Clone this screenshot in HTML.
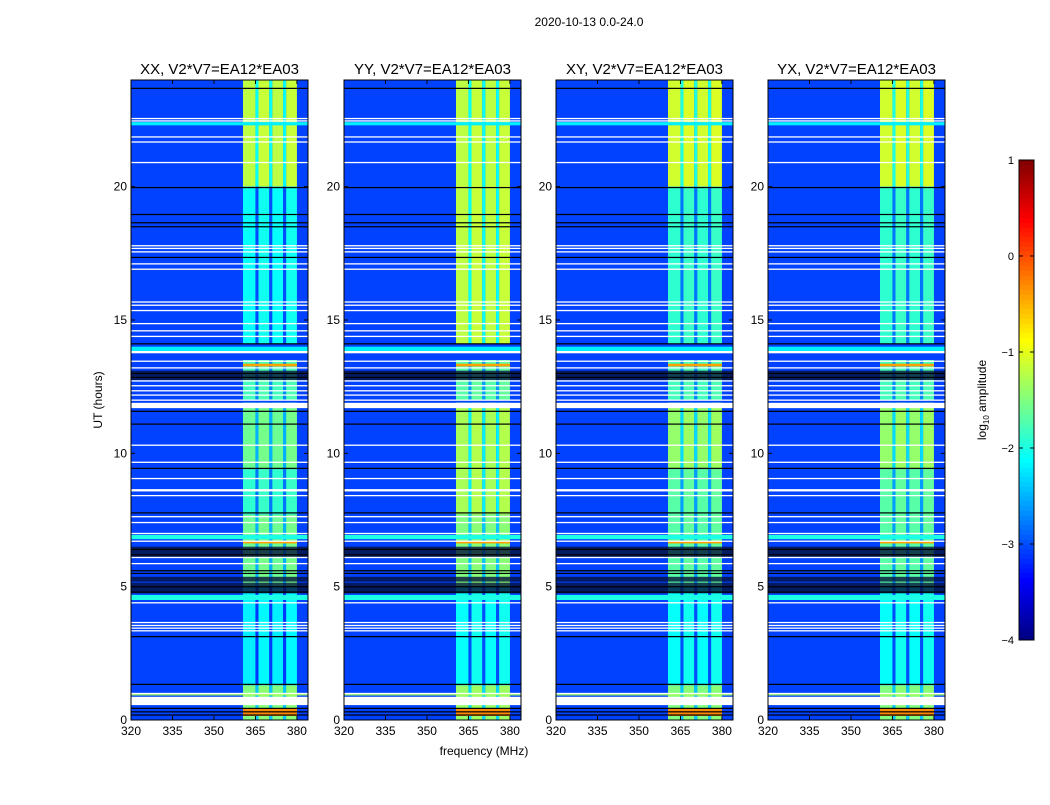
<!DOCTYPE html>
<html><head><meta charset="utf-8"><style>
body{margin:0;background:#fff;width:1050px;height:800px;overflow:hidden;font-family:"Liberation Sans",sans-serif}
</style></head><body>
<svg id="fig" width="1050" height="800" xmlns="http://www.w3.org/2000/svg" font-family="Liberation Sans, sans-serif">
<text x="589" y="26" font-size="12" text-anchor="middle">2020-10-13 0.0-24.0</text>
<text transform="translate(102,400) rotate(-90)" font-size="12" text-anchor="middle">UT (hours)</text>
<text x="484" y="755" font-size="12" text-anchor="middle">frequency (MHz)</text>
<text transform="translate(986,400) rotate(-90)" font-size="12" text-anchor="middle">log<tspan font-size="8" dy="3">10</tspan><tspan dy="-3"> amplitude</tspan></text>
<g id="panels"></g>
<g id="cbar"></g>
</svg>
<script>
const panelNames=["XX","YY","XY","YX"];
const xTicks=[320,335,350,365,380];
const yTicks=[0,5,10,15,20];
const cbTicks=[1,0,-1,-2,-3,-4];
const bgLevel=-3.05;
const bandCols=[[360.5,365,0],[365,366.1,-0.9],[366.1,370,0.05],[370,371.1,-0.9],[371.1,375,0],[375,376.1,-0.9],[376.1,380,0.05]];
const segXX=[[20,24,-1.2],[14.1,20,-2.1],[12,13.5,-1.8],[9.4,11.9,-1.6],[7.7,9.4,-1.9],[5,7.7,-1.6],[1.3,5,-2.2],[0,1.3,-1.5]];
const segYY=[[14.1,24,-1.2],[12,13.5,-1.7],[7.7,11.9,-1.3],[5,7.7,-1.5],[1.3,5,-2.1],[0,1.3,-1.4]];
const segXY=[[20,24,-1.1],[14.1,20,-1.9],[12,13.5,-1.8],[9.4,11.9,-1.4],[5,9.4,-1.7],[1.3,5,-2.1],[0,1.3,-1.5]];
const segYX=[[20,24,-1.1],[14.1,20,-1.9],[12,13.5,-1.8],[9.4,11.9,-1.4],[5,9.4,-1.7],[1.3,5,-2.1],[0,1.3,-1.5]];
const bgStripes=[[22.3,22.42,-2.2],[13.8,14.0,-2.2],[6.78,6.94,-2.0],[4.5,4.69,-2.0],[0.92,0.97,-1.3]];
const hotRows=[[13.26,13.36,-0.4],[6.62,6.72,-0.4],[0.15,0.45,-0.3]];
const darkRows=[[12.75,13.1],[5.19,5.37],[4.75,5.15],[6.11,6.5]];
const blackLines=[23.69,19.97,18.96,18.65,18.5,17.35,14.11,13.0,12.85,11.58,11.1,9.44,7.77,6.4,6.2,5.6,5.5,5.0,4.8,3.13,1.34,0.44,0.31,0.19];
const whiteLines=[[22.56,1],[22.47,1],[21.87,1],[21.68,1],[20.91,1],[17.79,1],[17.69,1],[17.56,1],[17.11,1],[16.91,1],[15.68,1],[15.56,1],[15.36,1],[14.87,1],[14.6,1],[14.39,1],[13.8,2],[13.46,1],[13.21,1],[12.72,1],[12.54,1],[12.35,1],[12.19,1],[12.0,1],[11.8,5],[10.31,1],[9.67,1],[9.06,1],[8.62,2],[8.42,1],[7.63,1],[7.41,1],[7.0,1],[6.71,1],[6.1,1],[5.87,1],[4.4,1],[3.66,1],[3.55,1],[3.45,1],[3.35,1],[1.0,1],[0.72,8]];
const segs=[segXX,segYY,segXY,segYX];
const px0=[131,344,556,768];
const PW=177, PT=80, PB=720, F0=320, F1=384, T1=24;
const NS="http://www.w3.org/2000/svg";
function jet(v){let x=(v+4)/5;x=Math.max(0,Math.min(1,x));
 const r=Math.max(0,Math.min(1,1.5-Math.abs(4*x-3))),g=Math.max(0,Math.min(1,1.5-Math.abs(4*x-2))),b=Math.max(0,Math.min(1,1.5-Math.abs(4*x-1)));
 return `rgb(${Math.round(r*255)},${Math.round(g*255)},${Math.round(b*255)})`;}
function mk(tag,attrs,parent){const e=document.createElementNS(NS,tag);for(const k in attrs)e.setAttribute(k,attrs[k]);parent.appendChild(e);return e;}
const panels=document.getElementById('panels');
panelNames.forEach((nm,i)=>{
 const x0=px0[i];
 const xs=f=>x0+(f-F0)/(F1-F0)*PW;
 const ys=t=>PB-t/T1*(PB-PT);
 const g=mk('g',{},panels);
 
 
 const bg=mk('rect',{x:x0,y:PT,width:PW,height:PB-PT,fill:jet(bgLevel)},g);
 
 
 segs[i].forEach(s=>{bandCols.forEach(c=>{
  const r=mk('rect',{x:xs(c[0]),y:ys(s[1]),width:xs(c[1])-xs(c[0]),height:ys(s[0])-ys(s[1]),fill:jet(s[2]+c[2])},g);
  
  
 });});
 bgStripes.forEach(s=>{const r=mk('rect',{x:x0,y:ys(s[1]),width:PW,height:Math.max(1,ys(s[0])-ys(s[1])),fill:jet(s[2])},g);
  
  });
 hotRows.forEach(s=>{const r=mk('rect',{x:xs(360.5),y:ys(s[1]),width:xs(380)-xs(360.5),height:Math.max(1,ys(s[0])-ys(s[1])),fill:jet(s[2])},g);
  
  });
 darkRows.forEach(s=>{const r=mk('rect',{x:x0,y:ys(s[1]),width:PW,height:ys(s[0])-ys(s[1]),fill:'#05103a',opacity:0.8},g);
  
  });
 blackLines.forEach(t=>{const r=mk('rect',{x:x0,y:ys(t)-0.5,width:PW,height:1.2,fill:'#000'},g);
  
  });
 whiteLines.forEach(w=>{const r=mk('rect',{x:x0,y:ys(w[0])-w[1]/2,width:PW,height:w[1]+0.3,fill:'#fff'},g);
  
  });
 const fr=mk('rect',{x:x0,y:PT,width:PW,height:PB-PT,fill:'none',stroke:'#000','stroke-width':1},g);
 
 
 const tt=mk('text',{x:x0+PW/2,y:74,'font-size':15,'text-anchor':'middle'},g);
 tt.textContent=nm+', V2*V7=EA12*EA03';
 
 
 xTicks.forEach(v=>{const x=xs(v);
  mk('line',{x1:x,x2:x,y1:PB,y2:PB-4,stroke:'#000'},g);mk('line',{x1:x,x2:x,y1:PT,y2:PT+4,stroke:'#000'},g);
  const t=mk('text',{x:x,y:PB+15,'font-size':12,'text-anchor':'middle'},g);t.textContent=v;
  
  });
 yTicks.forEach(v=>{const y=ys(v);
  mk('line',{x1:x0,x2:x0+4,y1:y,y2:y,stroke:'#000'},g);mk('line',{x1:x0+PW,x2:x0+PW-4,y1:y,y2:y,stroke:'#000'},g);
  const t=mk('text',{x:x0-4,y:y+4,'font-size':12,'text-anchor':'end'},g);t.textContent=v;
  
  });
});
// colorbar
const cb=document.getElementById('cbar');
const CX=1019,CW=15,CT=160,CB=640;
const cys=v=>CB-(v+4)/5*(CB-CT);
for(let k=0;k<100;k++){const v0=-4+k*0.05;
 const r=mk('rect',{x:CX,y:cys(v0+0.05),width:CW,height:cys(v0)-cys(v0+0.05)+0.5,fill:jet(v0+0.025)},cb);
 
 }
const cf=mk('rect',{x:CX,y:CT,width:CW,height:CB-CT,fill:'none',stroke:'#000'},cb);


cbTicks.forEach(v=>{const y=cys(v);
 mk('line',{x1:CX,x2:CX+4,y1:y,y2:y,stroke:'#000'},cb);mk('line',{x1:CX+CW,x2:CX+CW-4,y1:y,y2:y,stroke:'#000'},cb);
 const t=mk('text',{x:CX-5,y:y+4,'font-size':11,'text-anchor':'end'},cb);t.textContent=v<0?'\u2212'+(-v):v;
 
 });
</script>
</body></html>
